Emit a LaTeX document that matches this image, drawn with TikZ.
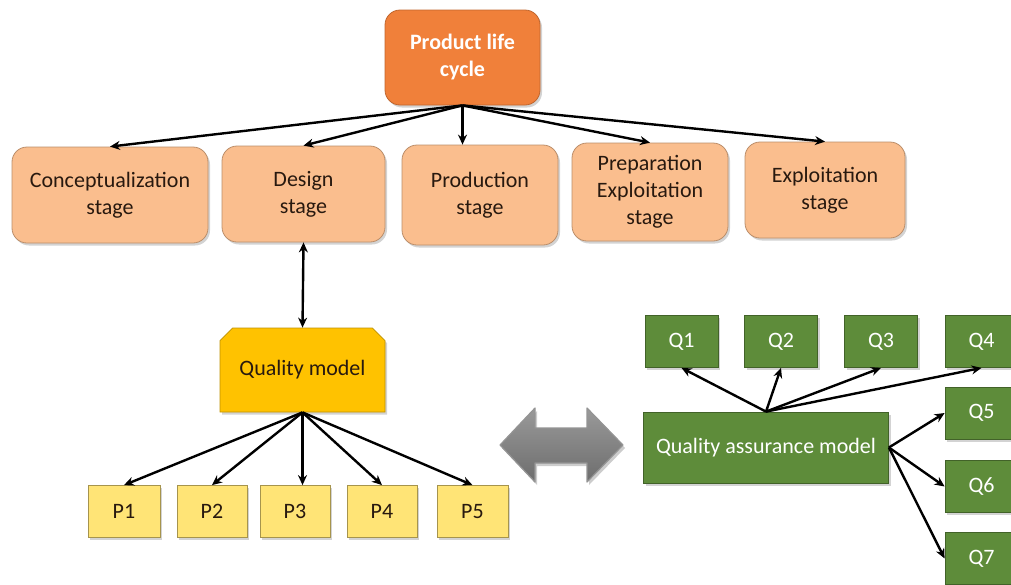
\documentclass[tikz,border=0pt]{standalone}
\usepackage{fontspec}
\setmainfont{Carlito}
\usetikzlibrary{shapes.misc,arrows.meta,shadows}
\definecolor{plcorange}{RGB}{240,128,58}
\definecolor{stageorange}{RGB}{250,190,142}
\definecolor{qmgold}{RGB}{255,194,0}
\definecolor{pyellow}{RGB}{255,228,118}
\definecolor{qgreen}{RGB}{94,140,58}
\definecolor{arrowgray}{RGB}{136,136,136}
\definecolor{txtdark}{RGB}{40,25,15}
\tikzset{
  shadowed/.style={drop shadow={opacity=0.35,shadow xshift=2pt,shadow yshift=-2.5pt}},
  topbox/.style={rounded corners=15pt,fill=plcorange,draw=plcorange!80!black,line width=0.8pt,
    text=white,font=\fontsize{22}{27}\selectfont\bfseries,align=center,inner sep=0pt,shadowed},
  stagebox/.style={rounded corners=15pt,fill=stageorange,draw=stageorange!75!black,line width=0.8pt,
    text=txtdark,font=\fontsize{22}{27}\selectfont,align=center,inner sep=0pt,shadowed},
  qmbox/.style={chamfered rectangle,chamfered rectangle corners={north west,north east},
    chamfered rectangle xsep=12pt,fill=qmgold,draw=qmgold!75!black,line width=0.8pt,
    text=txtdark,font=\fontsize{22}{27}\selectfont,inner sep=0pt,shadowed},
  pbox/.style={rectangle,fill=pyellow,draw=pyellow!65!black,line width=0.8pt,
    minimum height=52pt,text=txtdark,font=\fontsize{22}{27}\selectfont,inner sep=0pt,shadowed},
  qbox/.style={rectangle,fill=qgreen,draw=qgreen!70!black,line width=0.8pt,
    minimum width=73pt,minimum height=52pt,text=white,font=\fontsize{22}{27}\selectfont,inner sep=0pt,shadowed},
  link/.style={line width=2.4pt,-{Stealth[length=10pt,width=9pt]}},
  dlink/.style={line width=2.4pt,{Stealth[length=10pt,width=9pt]}-{Stealth[length=10pt,width=9pt]}}
}
\begin{document}
\begin{tikzpicture}[x=1pt,y=-1pt]
\useasboundingbox (0,0) rectangle (1011,584);
\clip (0,0) rectangle (1011,584);

% top node
\node[topbox,minimum width=155pt,minimum height=95pt] (plc) at (462.5,57.5) {Product life\\cycle};

% stages
\node[stagebox,minimum width=196pt,minimum height=96pt] (s1) at (110,195) {Conceptualization\\stage};
\node[stagebox,minimum width=163pt,minimum height=96pt] (s2) at (303.5,194) {Design\\stage};
\node[stagebox,minimum width=156pt,minimum height=100pt] (s3) at (480,195) {Production\\stage};
\node[stagebox,minimum width=156pt,minimum height=98pt] (s4) at (650,192) {Preparation\\Exploitation\\stage};
\node[stagebox,minimum width=160pt,minimum height=96pt] (s5) at (825,190) {Exploitation\\stage};

% quality model
\node[qmbox,minimum width=165pt,minimum height=84pt] (qm) at (302.5,370) {Quality model};

% P boxes
\node[pbox,minimum width=72pt] (p1) at (124,511.5) {P1};
\node[pbox,minimum width=70pt] (p2) at (212,511.5) {P2};
\node[pbox,minimum width=70pt] (p3) at (295,511.5) {P3};
\node[pbox,minimum width=70pt] (p4) at (382,511.5) {P4};
\node[pbox,minimum width=71pt] (p5) at (472.5,511.5) {P5};

% quality assurance model
\node[qbox,minimum width=245pt,minimum height=71pt] (qa) at (766,447.5) {Quality assurance model};

% Q boxes
\node[qbox] (q1) at (681.5,341.5) {Q1};
\node[qbox] (q2) at (781,341.5) {Q2};
\node[qbox] (q3) at (881,341.5) {Q3};
\node[qbox] (q4) at (981.5,341.5) {Q4};
\node[qbox] (q5) at (981.5,413) {Q5};
\node[qbox] (q6) at (981.5,486.5) {Q6};
\node[qbox] (q7) at (981.5,558.5) {Q7};

% gray double arrow
\fill[black,opacity=0.2,shift={(2,3)}]
  (500,445) -- (535,408) -- (535,428) -- (587,428) -- (587,408) -- (623,445)
  -- (587,482) -- (587,463) -- (535,463) -- (535,482) -- cycle;
\path[top color=arrowgray!85!white,bottom color=arrowgray!80!black,draw=arrowgray!90!white,
  line width=1.2pt,line join=round]
  (500,445) -- (535,408) -- (535,428) -- (587,428) -- (587,408) -- (623,445)
  -- (587,482) -- (587,463) -- (535,463) -- (535,482) -- cycle;

% connectors
\draw[link] (plc.south) -- (s1.north);
\draw[link] (plc.south) -- (s2.north);
\draw[link] (plc.south) -- (plc.south |- s3.north);
\draw[link] (plc.south) -- (s4.north);
\draw[link] (plc.south) -- (s5.north);

\draw[dlink] (s2.south) -- (qm.north);

\draw[link] (qm.south) -- (p1.north);
\draw[link] (qm.south) -- (p2.north);
\draw[link] (qm.south) -- (qm.south |- p3.north);
\draw[link] (qm.south) -- (p4.north);
\draw[link] (qm.south) -- (p5.north);

\draw[link] (qa.north) -- (q1.south);
\draw[link] (qa.north) -- (q2.south);
\draw[link] (qa.north) -- (q3.south);
\draw[link] (qa.north) -- (q4.south);
\draw[link] (qa.east) -- (q5.west);
\draw[link] (qa.east) -- (q6.west);
\draw[link] (qa.east) -- (q7.west);
\end{tikzpicture}
\end{document}
